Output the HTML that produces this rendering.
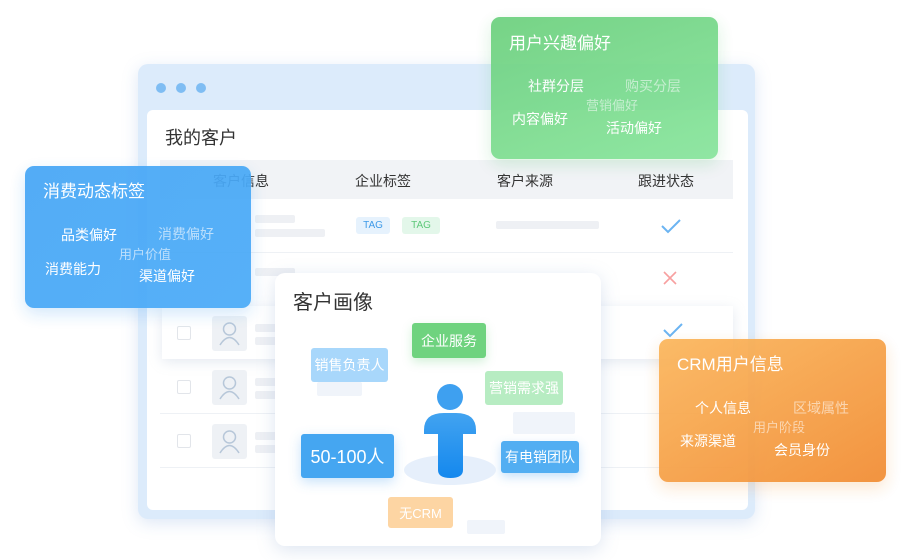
<!DOCTYPE html>
<html><head><meta charset="utf-8"><style>
*{margin:0;padding:0;box-sizing:border-box}
body{width:912px;height:560px;background:#fff;position:relative;overflow:hidden;font-family:"Liberation Sans","Noto Sans CJK SC",sans-serif}
.a{position:absolute}
.t{position:absolute;white-space:nowrap;line-height:1}
.bar{position:absolute;background:#eef0f4;border-radius:2px}
.card{position:absolute;border-radius:9px;color:#fff;opacity:.93}
.tag{position:absolute;border-radius:3px;color:#fff;display:flex;align-items:center;justify-content:center;white-space:nowrap}
</style></head><body>
<div class="a" style="left:138px;top:64px;width:617px;height:455px;background:#dcebfb;border-radius:10px;box-shadow:0 4px 16px rgba(120,160,220,.25)"></div>
<div class="a" style="left:156px;top:83px;width:10px;height:10px;border-radius:50%;background:#7fbdf3"></div>
<div class="a" style="left:176px;top:83px;width:10px;height:10px;border-radius:50%;background:#7fbdf3"></div>
<div class="a" style="left:196px;top:83px;width:10px;height:10px;border-radius:50%;background:#7fbdf3"></div>
<div class="a" style="left:147px;top:110px;width:601px;height:400px;background:#fff;border-radius:6px"></div>
<div class="t" style="left:165px;top:129px;font-size:18px;color:#333">我的客户</div>
<div class="a" style="left:160px;top:160px;width:573px;height:39px;background:#f1f3f6"></div>
<div class="t" style="left:213px;top:174px;font-size:14px;color:#333">客户信息</div>
<div class="t" style="left:355px;top:174px;font-size:14px;color:#333">企业标签</div>
<div class="t" style="left:497px;top:174px;font-size:14px;color:#333">客户来源</div>
<div class="t" style="left:638px;top:174px;font-size:14px;color:#333">跟进状态</div>
<div class="bar" style="left:255px;top:215px;width:40px;height:8px"></div>
<div class="bar" style="left:255px;top:229px;width:70px;height:8px"></div>
<div class="tag" style="left:356px;top:217px;width:34px;height:17px;background:#e6f2fd;color:#3f9ae8;font-size:10px">TAG</div>
<div class="tag" style="left:402px;top:217px;width:38px;height:17px;background:#e3f7ea;color:#5fc87a;font-size:10px">TAG</div>
<div class="bar" style="left:496px;top:221px;width:103px;height:8px"></div>
<svg class="a" style="left:660px;top:218px" width="22" height="16"><path d="M2 8 L8 14 L20 2" stroke="#6bb4f2" stroke-width="2" fill="none"/></svg>
<div class="a" style="left:160px;top:252px;width:573px;height:1px;background:#eef1f5"></div>
<div class="bar" style="left:255px;top:268px;width:40px;height:8px"></div>
<svg class="a" style="left:662px;top:270px" width="16" height="16"><path d="M2 2 L14 14 M14 2 L2 14" stroke="#f7a0a0" stroke-width="1.6"/></svg>
<div class="a" style="left:162px;top:306px;width:571px;height:53px;background:#fff;box-shadow:0 3px 12px rgba(150,170,200,.25)"></div>
<svg class="a" style="left:662px;top:322px" width="22" height="16"><path d="M2 8 L8 14 L20 2" stroke="#6bb4f2" stroke-width="2" fill="none"/></svg>
<div class="a" style="left:160px;top:413px;width:573px;height:1px;background:#eef1f5"></div>
<div class="a" style="left:160px;top:467px;width:573px;height:1px;background:#eef1f5"></div>
<div class="a" style="left:177px;top:326px;width:14px;height:14px;border:1px solid #e2e5ea;border-radius:2px"></div>
<div class="a" style="left:177px;top:380px;width:14px;height:14px;border:1px solid #e2e5ea;border-radius:2px"></div>
<div class="a" style="left:177px;top:434px;width:14px;height:14px;border:1px solid #e2e5ea;border-radius:2px"></div>
<svg class="a" style="left:212px;top:316px" width="35" height="35"><rect width="35" height="35" rx="3" fill="#eef1f5"/><circle cx="17.5" cy="13" r="6" stroke="#b7c7d9" stroke-width="1.5" fill="none"/><path d="M8 29 Q17.5 14 27 29" stroke="#b7c7d9" stroke-width="1.5" fill="none"/></svg>
<svg class="a" style="left:212px;top:370px" width="35" height="35"><rect width="35" height="35" rx="3" fill="#eef1f5"/><circle cx="17.5" cy="13" r="6" stroke="#b7c7d9" stroke-width="1.5" fill="none"/><path d="M8 29 Q17.5 14 27 29" stroke="#b7c7d9" stroke-width="1.5" fill="none"/></svg>
<svg class="a" style="left:212px;top:424px" width="35" height="35"><rect width="35" height="35" rx="3" fill="#eef1f5"/><circle cx="17.5" cy="13" r="6" stroke="#b7c7d9" stroke-width="1.5" fill="none"/><path d="M8 29 Q17.5 14 27 29" stroke="#b7c7d9" stroke-width="1.5" fill="none"/></svg>
<div class="bar" style="left:255px;top:324px;width:25px;height:8px"></div>
<div class="bar" style="left:255px;top:337px;width:25px;height:8px"></div>
<div class="bar" style="left:255px;top:378px;width:25px;height:8px"></div>
<div class="bar" style="left:255px;top:391px;width:25px;height:8px"></div>
<div class="bar" style="left:255px;top:432px;width:25px;height:8px"></div>
<div class="bar" style="left:255px;top:445px;width:25px;height:8px"></div>

<div class="card" style="left:25px;top:166px;width:226px;height:142px;background:linear-gradient(135deg,#47a6f6,#4aabf8);box-shadow:0 6px 16px rgba(70,160,240,.25)">
<div class="t" style="left:18px;top:17px;font-size:17px">消费动态标签</div>
<div class="t" style="left:36px;top:62px;font-size:14px">品类偏好</div>
<div class="t" style="left:133px;top:61px;font-size:14px;opacity:.6">消费偏好</div>
<div class="t" style="left:94px;top:82px;font-size:13px;opacity:.6">用户价值</div>
<div class="t" style="left:20px;top:96px;font-size:14px">消费能力</div>
<div class="t" style="left:114px;top:103px;font-size:14px">渠道偏好</div>
</div>
<div class="card" style="left:491px;top:17px;width:227px;height:142px;background:linear-gradient(160deg,#6cd07e,#88e59c);box-shadow:0 6px 16px rgba(100,200,120,.25)">
<div class="t" style="left:18px;top:18px;font-size:17px">用户兴趣偏好</div>
<div class="t" style="left:37px;top:62px;font-size:14px">社群分层</div>
<div class="t" style="left:134px;top:62px;font-size:14px;opacity:.55">购买分层</div>
<div class="t" style="left:95px;top:82px;font-size:13px;opacity:.55">营销偏好</div>
<div class="t" style="left:21px;top:95px;font-size:14px">内容偏好</div>
<div class="t" style="left:115px;top:104px;font-size:14px">活动偏好</div>
</div>
<div class="card" style="left:659px;top:339px;width:227px;height:143px;background:linear-gradient(150deg,#fbb65c,#f28c32);box-shadow:0 6px 16px rgba(240,150,60,.25)">
<div class="t" style="left:18px;top:17px;font-size:17px">CRM用户信息</div>
<div class="t" style="left:36px;top:62px;font-size:14px">个人信息</div>
<div class="t" style="left:134px;top:62px;font-size:14px;opacity:.55">区域属性</div>
<div class="t" style="left:94px;top:82px;font-size:13px;opacity:.55">用户阶段</div>
<div class="t" style="left:21px;top:95px;font-size:14px">来源渠道</div>
<div class="t" style="left:115px;top:104px;font-size:14px">会员身份</div>
</div>

<div class="a" style="left:275px;top:273px;width:326px;height:273px;background:#fff;border-radius:10px;box-shadow:0 4px 18px rgba(120,150,200,.25)"></div>
<div class="t" style="left:293px;top:293px;font-size:20px;color:#333">客户画像</div>
<div class="bar" style="left:317px;top:382px;width:45px;height:14px;background:#f0f4fa"></div>
<div class="bar" style="left:513px;top:412px;width:62px;height:22px;background:#f0f4fa"></div>
<div class="bar" style="left:467px;top:520px;width:38px;height:14px;background:#f0f4fa"></div>
<div class="tag" style="left:412px;top:323px;width:74px;height:35px;background:#6fd37f;font-size:14px;box-shadow:0 4px 10px rgba(110,210,130,.3)">企业服务</div>
<div class="tag" style="left:311px;top:348px;width:77px;height:34px;background:#a8d7fb;font-size:14px">销售负责人</div>
<div class="tag" style="left:485px;top:371px;width:78px;height:34px;background:#b7ecc2;font-size:14px">营销需求强</div>
<div class="tag" style="left:301px;top:434px;width:93px;height:44px;background:#45a6f1;font-size:18px;box-shadow:0 4px 12px rgba(70,160,240,.3)">50-100人</div>
<div class="tag" style="left:501px;top:441px;width:78px;height:32px;background:#52aef2;font-size:14px;box-shadow:0 4px 10px rgba(70,160,240,.3)">有电销团队</div>
<div class="tag" style="left:388px;top:497px;width:65px;height:31px;background:#fdd5a3;font-size:13px">无CRM</div>
<svg class="a" style="left:400px;top:380px" width="100" height="110">
<defs><linearGradient id="g" x1="0" y1="0" x2="0" y2="1"><stop offset="0" stop-color="#42a3f0"/><stop offset="1" stop-color="#1488ee"/></linearGradient></defs>
<ellipse cx="50" cy="90" rx="46" ry="15" fill="#e6effb"/>
<circle cx="50" cy="17" r="13" fill="#3ea0f0"/>
<path d="M24 50 Q24 33 44 33 L56 33 Q76 33 76 50 L76 54 L63 54 L63 90 Q63 98 50.5 98 Q38 98 38 90 L38 54 L24 54 Z" fill="url(#g)"/>
</svg>
</body></html>
